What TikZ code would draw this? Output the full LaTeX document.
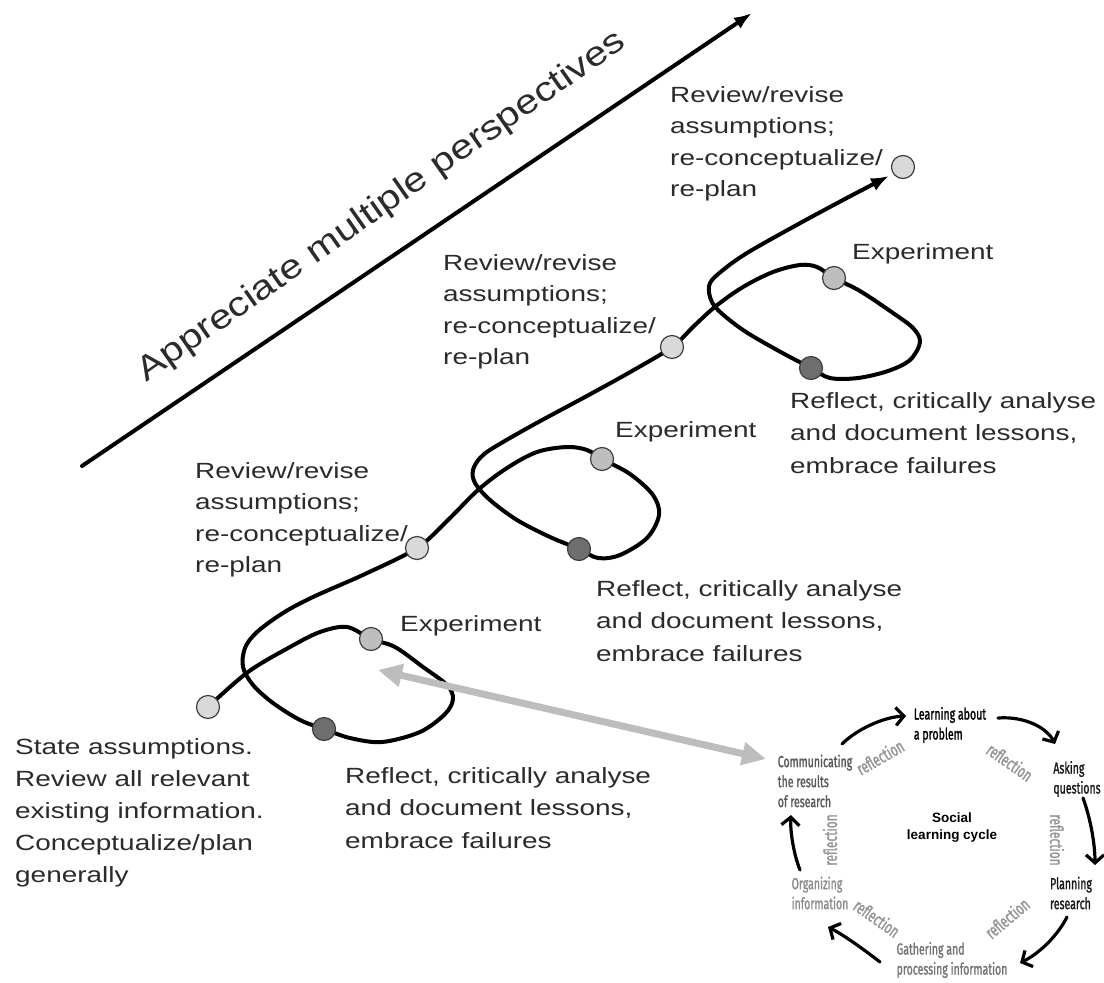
\documentclass[tikz,border=0pt]{standalone}
\usepackage{fontspec}
\setmainfont{Liberation Sans}
\newfontfamily\widefont[FakeStretch=1.27]{Liberation Sans}
\newfontfamily\titlefont[FakeStretch=1.2]{Liberation Sans}
\newfontfamily\cyclefont[FakeStretch=0.66,FakeBold=1.2]{Fira Sans}
\usetikzlibrary{arrows.meta}
\definecolor{txt}{HTML}{2B2B2B}
\definecolor{lightdot}{HTML}{D9D9D9}
\definecolor{expdot}{HTML}{BEBEBE}
\definecolor{darkdot}{HTML}{6E6E6E}
\definecolor{linkgray}{HTML}{BDBDBD}
\begin{document}
\begin{tikzpicture}[x=1pt,y=-1pt,
  lbl/.style={anchor=north west,inner sep=0pt,align=left,text=txt,font=\widefont\fontsize{22}{31.5}\selectfont},
  dotbase/.style={circle,draw=black!75,line width=1.2pt,minimum size=23pt,inner sep=0pt},
  ldot/.style={dotbase,fill=lightdot},
  edot/.style={dotbase,fill=expdot},
  rdot/.style={dotbase,fill=darkdot},
  mainline/.style={line width=4pt,line cap=round,line join=round},
  linkarrow/.style={line width=7pt,draw=linkgray,{Triangle[length=24pt,width=22pt]}-{Triangle[length=24pt,width=22pt]}},
  cyc/.style={inner sep=0pt,align=left,font=\cyclefont\fontsize{16}{20}\selectfont},
  refl/.style={inner sep=0pt,text=black!42,font=\cyclefont\fontsize{18}{20}\selectfont},
  cycarrow/.style={line width=3.2pt,line cap=round,-{Straight Barb[length=8pt,width=18pt,line width=3.2pt]}}
]
\useasboundingbox[fill=white] (0,0) rectangle (1104,983);

% big arrow and title
\coordinate (ba) at (82,466);
\coordinate (bb) at (752,13);
\draw[mainline,-{Latex[length=18pt,width=13pt]}] (ba) -- (bb);
\node[anchor=base,rotate=35,inner sep=0pt,text=txt,font=\titlefont\fontsize{34}{40}\selectfont] (title) at (387,214) {Appreciate multiple perspectives};

% the spiral path
\draw[mainline,-{Latex[length=18pt,width=14pt]}] plot[smooth,tension=0.55] coordinates {
 (208,707) (248,672) (290,647) (320,632) (347,627) (371,639) (395,647) (423,667) (447,685)
 (453,699) (445,714) (420,732) (382,742) (350,738) (324,729) (300,720) (273,703) (253,685)
 (243,667) (245,648) (257,632) (283,613) (313,597) (365,574) (417,548) (448,520) (478,490) (507,468)
 (537,452) (567,447) (587,450) (602,459) (630,474) (653,495) (659,515) (647,538) (620,555)
 (598,558) (579,549) (550,537) (517,520) (490,500) (475,483) (473,470) (480,458) (493,448)
 (533,425) (585,397) (632,371) (672,347) (695,325) (716,306) (743,287) (773,272) (800,265) (817,267)
 (834,278) (860,291) (893,313) (913,328) (920,342) (910,360) (888,371) (858,378) (830,378)
 (811,368) (777,350) (743,330) (718,310) (710,297) (710,283) (723,270) (747,253) (793,227)
 (843,200) (889,176)};

% dots
\node[ldot] (start) at (208,707) {};
\node[edot] (exp1) at (371,639) {};
\node[rdot] (ref1) at (324,729) {};
\node[ldot] (rev1) at (417,548) {};
\node[edot] (exp2) at (602,459) {};
\node[rdot] (ref2) at (579,549) {};
\node[ldot] (rev2) at (672,347) {};
\node[edot] (exp3) at (834,278) {};
\node[rdot] (ref3) at (811,368) {};
\node[ldot] (goal) at (903,167) {};

% labels
\node[lbl] (trev3) at (670,86) {Review/revise\\assumptions;\\re-conceptualize/\\re-plan};
\node[lbl] (trev2) at (443,254) {Review/revise\\assumptions;\\re-conceptualize/\\re-plan};
\node[lbl] (trev1) at (195,462) {Review/revise\\assumptions;\\re-conceptualize/\\re-plan};
\node[lbl] (texp3) at (852,243) {Experiment};
\node[lbl] (texp2) at (615,421) {Experiment};
\node[lbl] (texp1) at (400,615) {Experiment};
\node[lbl,font=\widefont\fontsize{22}{32.5}\selectfont] (tref3) at (790,392) {Reflect, critically analyse\\and document lessons,\\embrace failures};
\node[lbl,font=\widefont\fontsize{22}{32.5}\selectfont] (tref2) at (596,580) {Reflect, critically analyse\\and document lessons,\\embrace failures};
\node[lbl,font=\widefont\fontsize{22}{32.5}\selectfont] (tref1) at (345,767) {Reflect, critically analyse\\and document lessons,\\embrace failures};
\node[lbl,font=\widefont\fontsize{22}{32}\selectfont] (tstart) at (15,738) {State assumptions.\\Review all relevant\\existing information.\\Conceptualize/plan\\generally};

% link arrow
\coordinate (g1) at (378,670);
\coordinate (g2) at (766,759);
\draw[linkarrow] (g2) -- (g1);

% social learning cycle
\node[cyc,text=black] (learn) at (950,725) {Learning about\\a problem};
\node[cyc,text=black!90] (ask) at (1077,779) {Asking\\questions};
\node[cyc,text=black!90] (plan) at (1071,893) {Planning\\research};
\node[cyc,text=black!55] (gather) at (952,960) {Gathering and\\processing information};
\node[cyc,text=black!45] (organ) at (820,893) {Organizing\\information};
\node[cyc,text=black!65] (comm) at (815,781) {Communicating\\the results\\of research};
\node[inner sep=0pt,align=center,font=\bfseries\fontsize{13.5}{17}\selectfont] (social) at (952,828) {Social\\learning cycle};

\node[refl,rotate=30] (r1) at (880,757) {reflection};
\node[refl,rotate=-35] (r2) at (1010,762) {reflection};
\node[refl,rotate=-90] (r3) at (1057,840) {reflection};
\node[refl,rotate=40] (r4) at (1007,918) {reflection};
\node[refl,rotate=-35] (r5) at (877,918) {reflection};
\node[refl,rotate=90] (r6) at (830,840) {reflection};

\coordinate (c1a) at (842,744); \coordinate (c1b) at (906,716);
\coordinate (c2a) at (998,718); \coordinate (c2b) at (1055,744);
\coordinate (c3a) at (1083,798); \coordinate (c3b) at (1095,865);
\coordinate (c4a) at (1067,917); \coordinate (c4b) at (1020,963);
\coordinate (c5a) at (880,962); \coordinate (c5b) at (828,927);
\coordinate (c6a) at (800,870); \coordinate (c6b) at (791,815);
\draw[cycarrow] (c1a) .. controls (857,729) and (884,717) .. (c1b);
\draw[cycarrow] (c2a) .. controls (1025,716) and (1047,728) .. (c2b);
\draw[cycarrow] (c3a) .. controls (1091,820) and (1095,845) .. (c3b);
\draw[cycarrow] (c4a) .. controls (1058,935) and (1040,953) .. (c4b);
\draw[cycarrow] (c5a) .. controls (862,948) and (842,934) .. (c5b);
\draw[cycarrow] (c6a) .. controls (794,855) and (790,832) .. (c6b);
\end{tikzpicture}
\end{document}
